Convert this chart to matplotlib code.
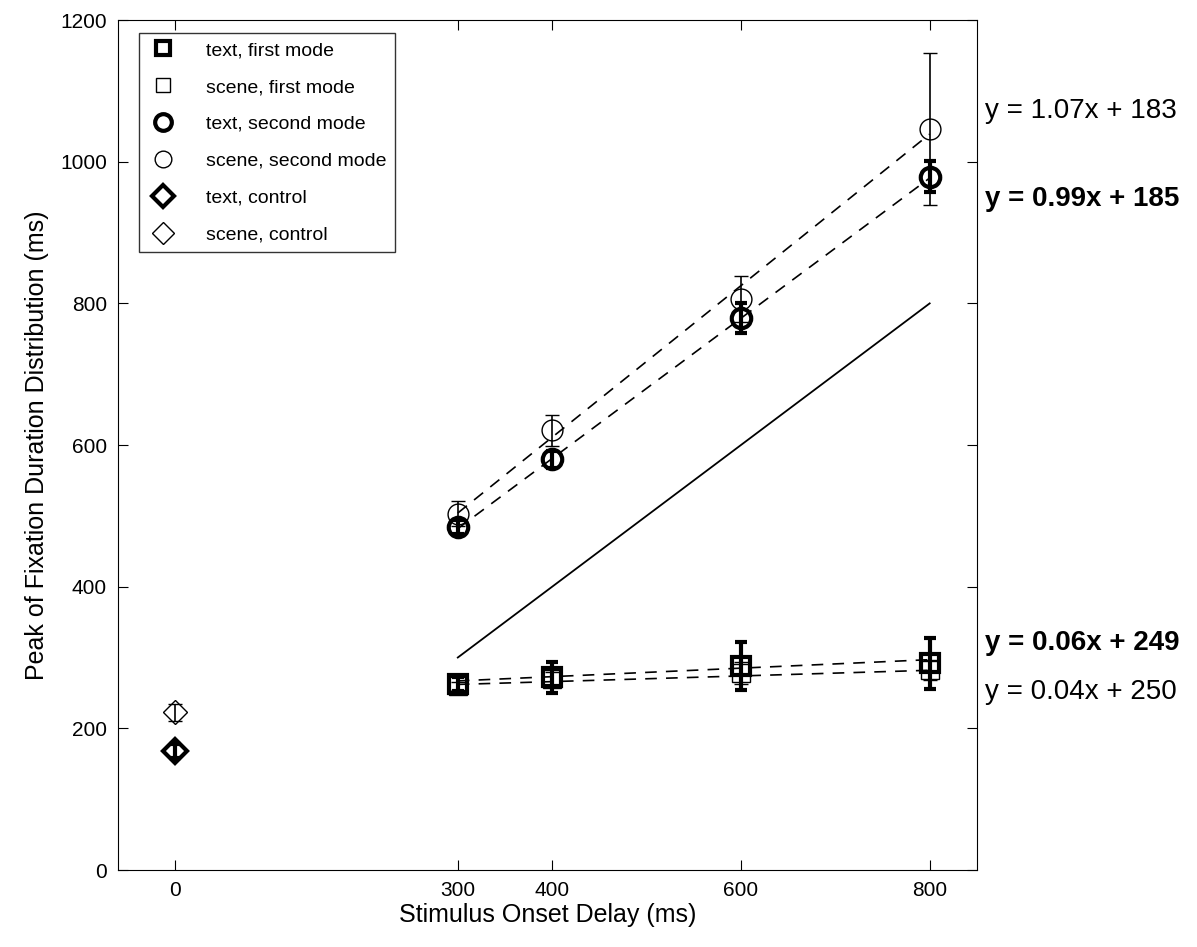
import numpy as np
import matplotlib.pyplot as plt
from matplotlib.lines import Line2D

plt.rcParams['font.family'] = ['Liberation Sans', 'DejaVu Sans']

delays = [300, 400, 600, 800]
control_delay = [0]

text_first = [263, 272, 288, 292]
text_first_err = [10, 22, 34, 36]
scene_first = [260, 270, 278, 282]
scene_first_err = [6, 10, 15, 14]
text_second = [484, 580, 779, 979]
text_second_err = [10, 12, 21, 22]
scene_second = [503, 621, 806, 1046]
scene_second_err = [18, 22, 32, 107]
text_control = [168]
text_control_err = [10]
scene_control = [223]
scene_control_err = [12]

# fitted lines (slope, intercept) as printed on the chart
fit_scene_second = (1.07, 183)
fit_text_second = (0.99, 185)
fit_text_first = (0.06, 249)
fit_scene_first = (0.04, 250)

fig = plt.figure(figsize=(11.97, 9.47), dpi=100)
ax = fig.add_axes([0.0986, 0.0813, 0.7175, 0.8975])

xs = np.array([300, 800])
for slope, icpt in [fit_scene_second, fit_text_second, fit_text_first, fit_scene_first]:
    ax.plot(xs, slope * xs + icpt, 'k--', lw=1.2, dashes=(7, 5.5))
ax.plot(xs, xs, 'k-', lw=1.3)

thick = dict(color='k', mfc='none', mec='k', mew=3, elinewidth=3, capsize=4, capthick=3, ls='none')
thin = dict(color='k', mfc='none', mec='k', mew=1, elinewidth=1.2, capsize=5, capthick=1.2, ls='none')

ax.errorbar(delays, text_first, yerr=text_first_err, marker='s', ms=13, **thick)
ax.errorbar(delays, scene_first, yerr=scene_first_err, marker='s', ms=13, **thin)
ax.errorbar(delays, text_second, yerr=text_second_err, marker='o', ms=14, **thick)
ax.errorbar(delays, scene_second, yerr=scene_second_err, marker='o', ms=15, **thin)
ax.errorbar(control_delay, text_control, yerr=text_control_err, marker='D', ms=12, **thick)
ax.errorbar(control_delay, scene_control, yerr=scene_control_err, marker='D', ms=12, **thin)

ax.set_xlim(-60, 850)
ax.set_ylim(0, 1200)
ax.set_xticks([0, 300, 400, 600, 800])
ax.set_yticks(range(0, 1201, 200))
ax.tick_params(direction='in', top=True, right=True, length=7, labelsize=15, pad=8)
ax.set_xlabel('Stimulus Onset Delay (ms)', fontsize=18, labelpad=2)
ax.set_ylabel('Peak of Fixation Duration Distribution (ms)', fontsize=18, labelpad=8)

labels = ['text, first mode', 'scene, first mode', 'text, second mode',
          'scene, second mode', 'text, control', 'scene, control']
markers = ['s', 's', 'o', 'o', 'D', 'D']
handles = []
for i, (lab, m) in enumerate(zip(labels, markers)):
    w = 3 if i % 2 == 0 else 1
    ms = {'s': 10, 'o': 12, 'D': 11}[m]
    handles.append(Line2D([], [], ls='none', marker=m, ms=ms, mfc='none', mec='k', mew=w, label=lab))

leg = ax.legend(handles=handles, loc='upper left', fontsize=14, frameon=True, fancybox=False,
                edgecolor='k', handletextpad=1.4, labelspacing=0.99, handlelength=1.55,
                bbox_to_anchor=(0.025, 0.985), borderaxespad=0, borderpad=0.45)
leg.get_frame().set_linewidth(1)

def eq(slope, icpt):
    return 'y = {:.2f}x + {}'.format(slope, icpt)

eq_kw = dict(transform=ax.transAxes, fontsize=20, va='center')
ax.text(1.01, 1072 / 1200, eq(*fit_scene_second), **eq_kw)
ax.text(1.01, 948 / 1200, eq(*fit_text_second), fontweight='bold', **eq_kw)
ax.text(1.01, 320 / 1200, eq(*fit_text_first), fontweight='bold', **eq_kw)
ax.text(1.01, 251 / 1200, eq(*fit_scene_first), **eq_kw)

fig.savefig('out.png', dpi=100)
